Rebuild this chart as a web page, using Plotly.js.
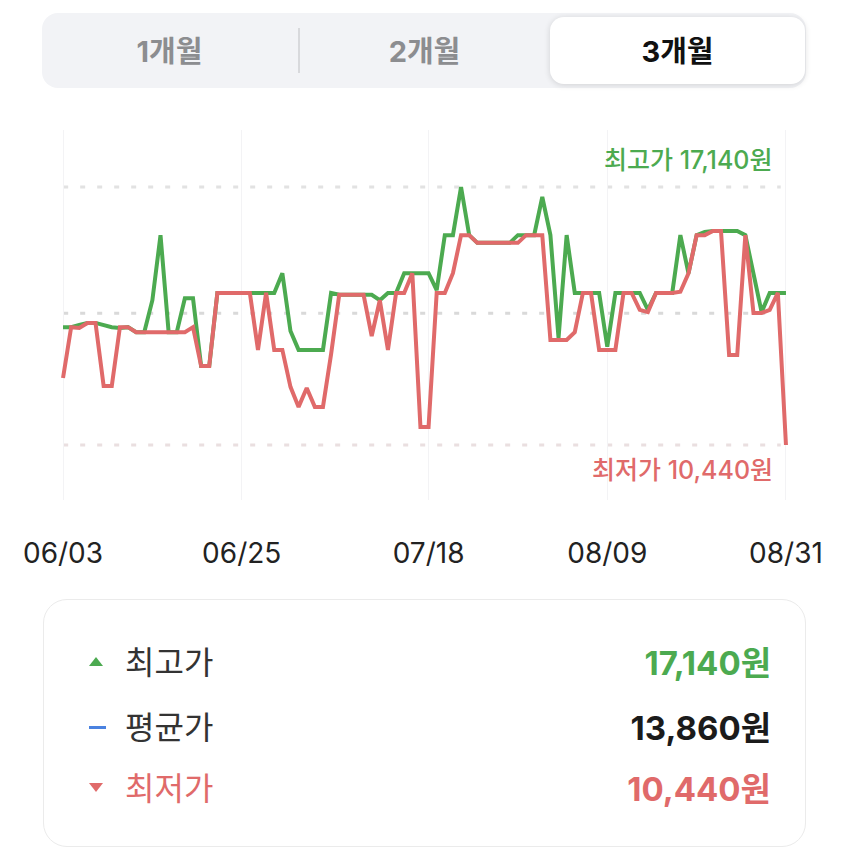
<!DOCTYPE html>
<html lang="ko">
<head>
<meta charset="utf-8">
<script src="https://cdn.plot.ly/plotly-3.0.1.min.js"></script>
<style>
  html, body { margin: 0; padding: 0; background: #fff; }
  body { width: 850px; height: 866px; position: relative; overflow: hidden;
         font-family: Inter, "Noto Sans CJK KR", sans-serif; }
  #chart { position: absolute; left: 0; top: 0; width: 850px; height: 600px; }
  .seg { position: absolute; left: 42px; top: 13px; width: 764px; height: 75px;
         background: #f2f3f6; border-radius: 16px; }
  .seg .sel { position: absolute; left: 508px; top: 4px; width: 255px; height: 67px;
              background: #fff; border-radius: 14px; box-shadow: 0 1px 6px rgba(0,0,0,0.14); }
  .seg .div { position: absolute; left: 256px; top: 15px; width: 2px; height: 45px; background: #d8d9dc; }
  .seg span { position: absolute; top: 1px; width: 255px; line-height: 75px; text-align: center;
              font-size: 29px; font-weight: 700; color: #8c8d90; }
  .seg span.on { color: #111; }
  .card { position: absolute; left: 43px; top: 599px; width: 761px; height: 246px;
          border: 1.5px solid #ebebeb; border-radius: 24px; }
  .row { position: absolute; left: 0; width: 761px; height: 40px; }
  .row .mk { position: absolute; left: 45px; top: 14px; }
  .row .lb { position: absolute; left: 81px; top: 0; line-height: 40px; font-size: 32px; color: #333; }
  .row .val { position: absolute; right: 34px; top: 0; line-height: 40px; font-size: 33px; font-weight: 700; }
  .up { width: 0; height: 0; border-left: 7px solid transparent; border-right: 7px solid transparent;
        border-bottom: 9px solid #4caa50; }
  .down { width: 0; height: 0; border-left: 7px solid transparent; border-right: 7px solid transparent;
          border-top: 9px solid #e06a6a; }
  .dash { width: 17px; height: 3px; background: #4a82e0; margin-top: 4px; }
</style>
</head>
<body>
<div id="chart"></div>

<div class="seg">
  <div class="sel"></div>
  <div class="div"></div>
  <span style="left:0">1개월</span>
  <span style="left:255px">2개월</span>
  <span class="on" style="left:508px">3개월</span>
</div>

<div class="card">
  <div class="row" style="top:43px">
    <div class="mk up"></div><div class="lb">최고가</div>
    <div class="val" style="color:#4caa50">17,140원</div>
  </div>
  <div class="row" style="top:108px">
    <div class="mk dash"></div><div class="lb">평균가</div>
    <div class="val" style="color:#1b1b1b">13,860원</div>
  </div>
  <div class="row" style="top:169px">
    <div class="mk down"></div><div class="lb" style="color:#e06a6a">최저가</div>
    <div class="val" style="color:#e06a6a">10,440원</div>
  </div>
</div>

<script>
// ─── Data ────────────────────────────────────────────────────────────────────
// 일별 시세 (06/03 ~ 08/31, 90일)
const START_DATE = '2024-06-03';
const tickDates  = ['2024-06-03', '2024-06-25', '2024-07-18', '2024-08-09', '2024-08-31'];
const tickLabels = ['06/03', '06/25', '07/18', '08/09', '08/31'];

const highPrices = [
  13500, 13500, 13560, 13610, 13610, 13560, 13500, 13480, 13500, 13370,
  13370, 14200, 15890, 13370, 13370, 14250, 14250, 12490, 12490, 14390,
  14390, 14390, 14390, 14390, 14390, 14390, 14390, 14900, 13400, 12910,
  12910, 12910, 12910, 14390, 14340, 14340, 14340, 14340, 14340, 14200,
  14390, 14390, 14900, 14900, 14900, 14900, 14460, 15890, 15890, 17140,
  15890, 15690, 15690, 15690, 15690, 15690, 15890, 15890, 15890, 16880,
  15890, 13220, 15890, 14390, 14390, 14390, 14390, 12990, 14390, 14390,
  14390, 14390, 13950, 14390, 14390, 14390, 15890, 14900, 15890, 15970,
  16000, 16000, 16000, 16000, 15890, 14900, 13890, 14390, 14390, 14390,
];
const lowPrices = [
  12180, 13500, 13480, 13610, 13610, 11970, 11970, 13500, 13500, 13370,
  13370, 13370, 13370, 13370, 13370, 13370, 13500, 12490, 12490, 14390,
  14390, 14390, 14390, 14390, 12910, 14390, 12910, 12910, 11950, 11430,
  11920, 11430, 11430, 12800, 14340, 14340, 14340, 14340, 13270, 14200,
  12910, 14390, 14390, 14900, 10910, 10910, 14390, 14390, 14900, 15890,
  15890, 15690, 15690, 15690, 15690, 15690, 15690, 15890, 15890, 15890,
  13170, 13170, 13170, 13370, 14390, 14390, 12910, 12910, 12910, 14390,
  14390, 13950, 13890, 14390, 14390, 14390, 14420, 14900, 15890, 15890,
  16000, 16000, 12780, 12780, 15890, 13870, 13870, 13950, 14390, 10440,
];

const MAX_PRICE = 17140;
const AVG_PRICE = 13860;
const MIN_PRICE = 10440;

const GREEN = '#4caa50';
const RED   = '#e06a6a';

// ─── Build ───────────────────────────────────────────────────────────────────

function _dates(n) {
  const out = [];
  const d = new Date(START_DATE + 'T00:00:00Z');
  for (let i = 0; i < n; i++) {
    out.push(d.toISOString().slice(0, 10));
    d.setUTCDate(d.getUTCDate() + 1);
  }
  return out;
}

const dates = _dates(highPrices.length);

function _refLine(y, color) {
  return {
    type: 'line', xref: 'paper', yref: 'y', x0: 0.003, x1: 0.99, y0: y, y1: y,
    line: { color, width: 3, dash: '5px,12px' }, layer: 'below',
  };
}

const traces = [
  { x: dates, y: highPrices, mode: 'lines', name: '최고가',
    line: { color: GREEN, width: 4, shape: 'linear' }, hoverinfo: 'skip' },
  { x: dates, y: lowPrices,  mode: 'lines', name: '최저가',
    line: { color: RED, width: 4, shape: 'linear' }, hoverinfo: 'skip' },
];

// 선 끝이 잘리지 않도록 양쪽에 6시간 여유
const layout = {
  width: 850, height: 600,
  margin: { l: 61, r: 62, t: 130, b: 100 },
  paper_bgcolor: 'rgba(0,0,0,0)', plot_bgcolor: 'rgba(0,0,0,0)',
  showlegend: false,
  font: { family: 'Inter, "Noto Sans CJK KR", sans-serif' },
  xaxis: {
    type: 'date', range: ['2024-06-02 18:00', '2024-08-31 06:00'],
    tickmode: 'array', tickvals: tickDates, ticktext: tickLabels,
    showgrid: true, gridcolor: '#f3f3f5', gridwidth: 1,
    zeroline: false, showline: false, ticks: '',
    tickfont: { size: 28, color: '#222' }, ticklabelstandoff: 34,
  },
  yaxis: {
    range: [9012, 18620], showgrid: false, zeroline: false,
    showticklabels: false, showline: false,
  },
  shapes: [
    _refLine(MAX_PRICE, '#e2e2e2'),
    _refLine(AVG_PRICE, '#d9d9d9'),
    _refLine(MIN_PRICE, '#eadfe0'),
  ],
  annotations: [
    { xref: 'paper', yref: 'y', x: 1, y: MAX_PRICE, xanchor: 'right', yanchor: 'middle',
      xshift: -13, yshift: 27, showarrow: false, text: '최고가 17,140원',
      font: { size: 25, color: GREEN, weight: 500 } },
    { xref: 'paper', yref: 'y', x: 1, y: MIN_PRICE, xanchor: 'right', yanchor: 'middle',
      xshift: -13, yshift: -25, showarrow: false, text: '최저가 10,440원',
      font: { size: 25, color: RED, weight: 500 } },
  ],
};

Plotly.newPlot('chart', traces, layout, { staticPlot: true, displayModeBar: false });
</script>
</body>
</html>
